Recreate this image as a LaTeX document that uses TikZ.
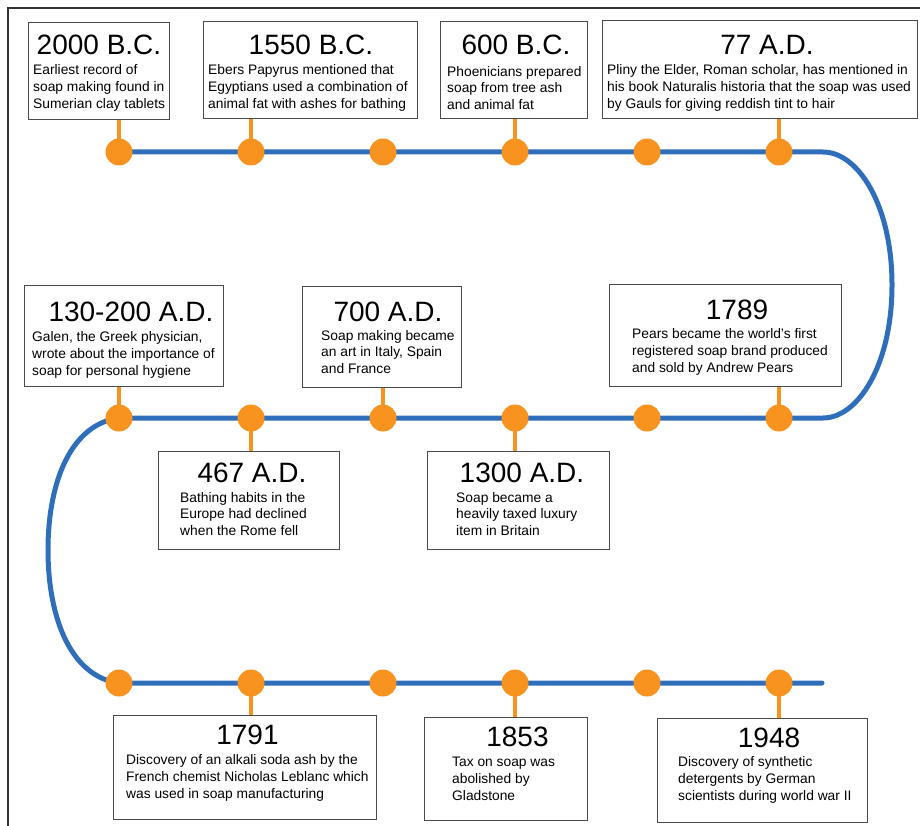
\documentclass[tikz,border=0pt]{standalone}
\usepackage{fontspec}
\setmainfont{Liberation Sans}
\definecolor{blueC}{HTML}{2F6EBA}
\definecolor{orangeC}{HTML}{F7931E}
\definecolor{boxC}{HTML}{4A4A4A}
\tikzset{
  evbox/.style={draw=boxC, line width=1.3pt, fill=white, inner sep=0pt, anchor=north west},
  ttl/.style={font=\fontsize{28}{30}\selectfont, inner sep=0pt},
  bdy/.style={font=\fontsize{13.8}{16.7}\selectfont, align=left, anchor=west, inner sep=0pt},
  evdot/.style={circle, fill=orangeC, minimum size=27pt, inner sep=0pt},
  stem/.style={draw=orangeC, line width=4pt},
  track/.style={draw=blueC, line width=5pt, line cap=round},
  frameline/.style={draw=black!80, line width=1.5pt}
}
\begin{document}
\begin{tikzpicture}[x=1pt,y=-1pt]
\useasboundingbox (0,0) rectangle (920,826);
\draw[frameline] (8,826) -- (8,8) -- (920,8);

% dots (positions)
\foreach \i/\x in {1/119,2/251,3/383,4/515,5/647,6/779}{
  \coordinate (p\i) at (\x,152);}
\foreach \i/\x in {7/119,8/251,9/383,10/515,11/647,12/779}{
  \coordinate (p\i) at (\x,418);}
\foreach \i/\x in {13/119,14/251,15/383,16/515,17/647,18/779}{
  \coordinate (p\i) at (\x,683);}
\coordinate (r1) at (823,152);
\coordinate (r2) at (823,418);
\coordinate (tend) at (822,683);

% boxes
\node[evbox, minimum width=141pt, minimum height=97pt] (b1) at (28,22) {};
\node[evbox, minimum width=214pt, minimum height=97pt] (b2) at (203,21) {};
\node[evbox, minimum width=147pt, minimum height=97pt] (b3) at (440,21) {};
\node[evbox, minimum width=315pt, minimum height=98pt] (b4) at (602,20) {};
\node[evbox, minimum width=199pt, minimum height=101pt] (b5) at (24,285) {};
\node[evbox, minimum width=159pt, minimum height=101pt] (b6) at (302,286) {};
\node[evbox, minimum width=232pt, minimum height=102pt] (b7) at (609,284) {};
\node[evbox, minimum width=181pt, minimum height=98pt] (b8) at (158,451) {};
\node[evbox, minimum width=182pt, minimum height=98pt] (b9) at (427,451) {};
\node[evbox, minimum width=263pt, minimum height=104pt] (b10) at (113,715) {};
\node[evbox, minimum width=163pt, minimum height=103pt] (b11) at (424,717) {};
\node[evbox, minimum width=210pt, minimum height=104pt] (b12) at (657,718) {};

% stems
\draw[stem] (b1.south -| p1) -- (p1);
\draw[stem] (b2.south -| p2) -- (p2);
\draw[stem] (b3.south -| p4) -- (p4);
\draw[stem] (b4.south -| p6) -- (p6);
\draw[stem] (b5.south -| p7) -- (p7);
\draw[stem] (b6.south -| p9) -- (p9);
\draw[stem] (b7.south -| p12) -- (p12);
\draw[stem] (b8.north -| p8) -- (p8);
\draw[stem] (b9.north -| p10) -- (p10);
\draw[stem] (b10.north -| p14) -- (p14);
\draw[stem] (b11.north -| p16) -- (p16);
\draw[stem] (b12.north -| p18) -- (p18);

% track
\draw[track] (p1) -- (r1) .. controls (858,152) and (892,205) .. (892,285)
  .. controls (892,365) and (858,418) .. (r2) -- (p7)
  .. controls (72,424) and (48,480) .. (48,550)
  .. controls (48,620) and (72,677) .. (p13) -- (tend);

% dots
\foreach \i in {1,...,18}{ \node[evdot] (d\i) at (p\i) {}; }

% titles
\node[ttl] (t1) at (99,45) {2000 B.C.};
\node[ttl] (t2) at (311,45) {1550 B.C.};
\node[ttl] (t3) at (516,45) {600 B.C.};
\node[ttl] (t4) at (767,45) {77 A.D.};
\node[ttl] (t5) at (131,312) {130-200 A.D.};
\node[ttl] (t6) at (388,312) {700 A.D.};
\node[ttl] (t7) at (737,310) {1789};
\node[ttl] (t8) at (252,473) {467 A.D.};
\node[ttl] (t9) at (522,473) {1300 A.D.};
\node[ttl] (t10) at (247.5,735) {1791};
\node[ttl] (t11) at (517.5,737) {1853};
\node[ttl] (t12) at (769,738) {1948};

% bodies
\node[bdy] (x1) at (33,88) {Earliest record of\\soap making found in\\Sumerian clay tablets};
\node[bdy] (x2) at (208,88) {Ebers Papyrus mentioned that\\Egyptians used a combination of\\animal fat with ashes for bathing};
\node[bdy] (x3) at (447,88) {Phoenicians prepared\\soap from tree ash\\and animal fat};
\node[bdy] (x4) at (607,88) {Pliny the Elder, Roman scholar, has mentioned in\\his book Naturalis historia that the soap was used\\by Gauls for giving reddish tint to hair};
\node[bdy] (x5) at (32,355) {Galen, the Greek physician,\\wrote about the importance of\\soap for personal hygiene};
\node[bdy] (x6) at (321,352) {Soap making became\\an art in Italy, Spain\\and France};
\node[bdy] (x7) at (632,352) {Pears became the world’s first\\registered soap brand produced\\and sold by Andrew Pears};
\node[bdy] (x8) at (180,514) {Bathing habits in the\\Europe had declined\\when the Rome fell};
\node[bdy] (x9) at (456,514) {Soap became a\\heavily taxed luxury\\item in Britain};
\node[bdy] (x10) at (126,778) {Discovery of an alkali soda ash by the\\French chemist Nicholas Leblanc which\\was used in soap manufacturing};
\node[bdy] (x11) at (452,779) {Tax on soap was\\abolished by\\Gladstone};
\node[bdy] (x12) at (678,780) {Discovery of synthetic\\detergents by German\\scientists during world war II};
\end{tikzpicture}
\end{document}
